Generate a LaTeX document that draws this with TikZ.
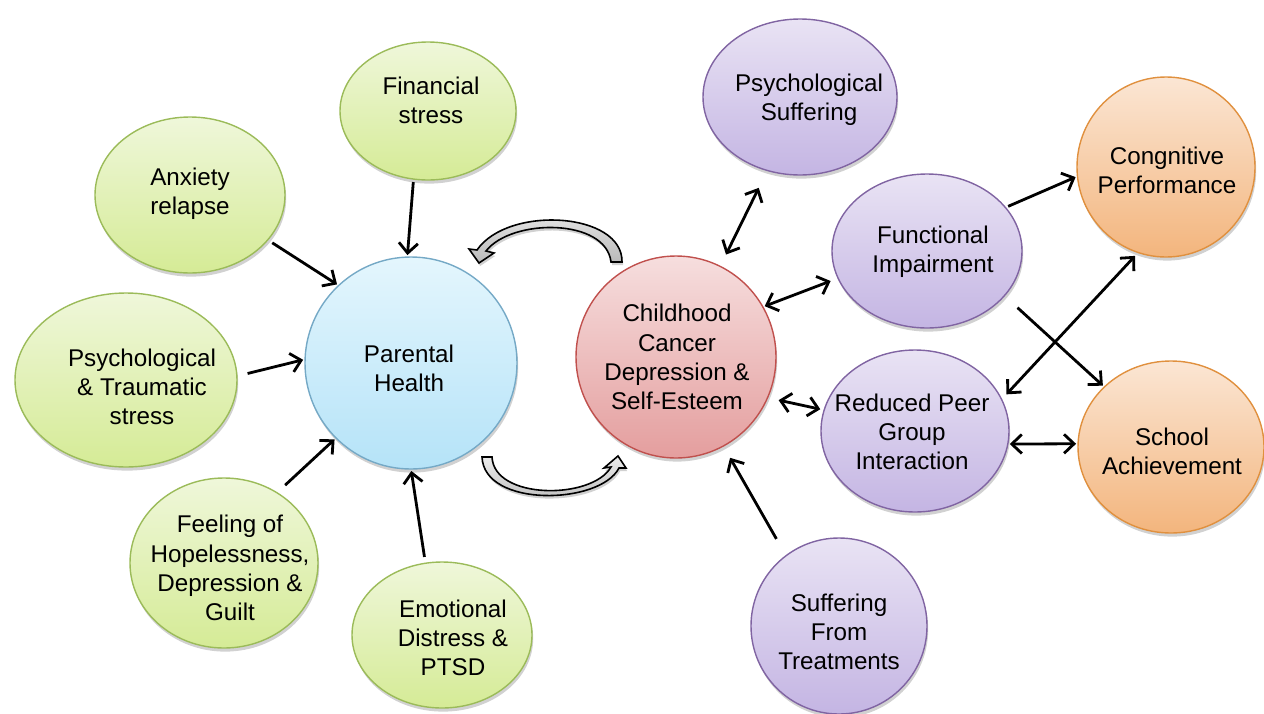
\documentclass[tikz,border=0pt]{standalone}
\usepackage{fontspec}
\setmainfont{Liberation Sans}
\usetikzlibrary{shapes.geometric,arrows.meta,shadows}

\definecolor{grnTop}{HTML}{EFF7DA}
\definecolor{grnBot}{HTML}{D5EB96}
\definecolor{grnLine}{HTML}{9BBB59}
\definecolor{bluTop}{HTML}{E4F6FD}
\definecolor{bluBot}{HTML}{B5E3F8}
\definecolor{bluLine}{HTML}{75A9C6}
\definecolor{redTop}{HTML}{F6DEDE}
\definecolor{redBot}{HTML}{E49E9E}
\definecolor{redLine}{HTML}{C0504D}
\definecolor{purTop}{HTML}{E9E3F4}
\definecolor{purBot}{HTML}{C4B5E3}
\definecolor{purLine}{HTML}{8064A2}
\definecolor{orgTop}{HTML}{FBE6D4}
\definecolor{orgBot}{HTML}{F3B57D}
\definecolor{orgLine}{HTML}{E0903E}

\tikzset{
  bub/.style={ellipse, inner sep=0pt, outer sep=0pt, line width=0.7pt,
    drop shadow={shadow xshift=0.6pt, shadow yshift=-1.8pt, fill=black, opacity=0.18}},
  wh/.style 2 args={minimum width=#1*0.5pt, minimum height=#2*0.5pt},
  grn/.style={bub, draw=grnLine, top color=grnTop, bottom color=grnBot},
  blu/.style={bub, draw=bluLine, top color=bluTop, bottom color=bluBot},
  red/.style={bub, draw=redLine, top color=redTop, bottom color=redBot},
  pur/.style={bub, draw=purLine, top color=purTop, bottom color=purBot},
  org/.style={bub, draw=orgLine, top color=orgTop, bottom color=orgBot},
  txt/.style={align=center, inner sep=0pt, font=\fontsize{12.1}{14.6}\selectfont},
  barb/.tip={Straight Barb[length=5pt,width=9.5pt]},
  link/.style={line width=1.4pt, -barb, shorten >=1pt, shorten <=1pt},
  both/.style={line width=1.4pt, barb-barb, shorten >=1pt, shorten <=1pt},
  swing/.style={draw=black, line width=0.8pt, top color=gray!15, bottom color=gray!55,
    drop shadow={shadow xshift=0.6pt, shadow yshift=-1.5pt, fill=black, opacity=0.18}},
}

\begin{document}
\begin{tikzpicture}[x=0.5pt,y=-0.5pt]
\useasboundingbox (0,0) rectangle (1264,713);

% parent-side influences
\node[grn, wh={176}{138}] (fin) at (428,111) {};
\node[grn, wh={190}{156}] (anx) at (190,195) {};
\node[grn, wh={222}{174}] (pts) at (126,380) {};
\node[grn, wh={188}{170}] (hop) at (224,563) {};
\node[grn, wh={180}{146}] (emo) at (442,635) {};

% the two central circles
\node[blu, wh={212}{212}] (ph) at (411,363) {};
\node[red, wh={200}{202}] (cc) at (676,357) {};

% child-side outcomes
\node[pur, wh={194}{156}] (psu) at (800,97) {};
\node[pur, wh={190}{154}] (fi)  at (927,251) {};
\node[pur, wh={188}{162}] (rp)  at (915,431) {};
\node[pur, wh={176}{176}] (sft) at (839,626) {};
\node[org, wh={178}{180}] (cog) at (1166,167) {};
\node[org, wh={186}{172}] (sch) at (1171,447) {};

% labels
\node[txt] (fin-t) at (431,100) {Financial\\stress};
\node[txt] (anx-t) at (190,194) {Anxiety\\relapse};
\node[txt] (pts-t) at (142,387) {Psychological\\\& Traumatic\\stress};
\node[txt] (hop-t) at (230,568) {Feeling of\\Hopelessness,\\Depression \&\\Guilt};
\node[txt] (emo-t) at (453,638) {Emotional\\Distress \&\\PTSD};
\node[txt] (ph-t)  at (409,368) {Parental\\Health};
\node[txt] (cc-t)  at (677,357) {Childhood\\Cancer\\Depression \&\\Self-Esteem};
\node[txt] (psu-t) at (809,100) {Psychological\\Suffering};
\node[txt] (fi-t)  at (933,252) {Functional\\Impairment};
\node[txt] (rp-t)  at (912,432) {Reduced Peer\\Group\\Interaction};
\node[txt] (sft-t) at (839,632) {Suffering\\From\\Treatments};
\node[txt] (cog-t) at (1167,170) {Congnitive\\Performance};
\node[txt] (sch-t) at (1172,451) {School\\Achievement};

% curved block arrows between the two circles
\path[swing] (622,262) .. controls (623,212) and (508,205) .. (477,250)
  -- (469,249) -- (479,263) -- (494,253) -- (486,251)
  .. controls (512,218) and (606,218) .. (611,262) -- cycle;
\path[swing] (482,457) .. controls (484,508) and (600,505) .. (619,468)
  -- (626,468) -- (618,456) -- (604,468) -- (611,467)
  .. controls (592,500) and (494,500) .. (492,457) -- cycle;

% influences on parental health
\draw[link, shorten <=1.5pt] (fin.258) -- (ph.92);
\draw[link, shorten <=2.7pt] (anx.330) -- (ph.133);
\draw[link, shorten <=5.5pt] (pts.2) -- (ph.178);
\draw[link, shorten <=5.6pt] (hop.53) -- (ph.225);
\draw[link, shorten <=3.2pt] (emo.103) -- (ph.270);

% links around the child
\draw[both, shorten <=6.6pt, shorten >=9.7pt] (cc.64) -- (psu.246);
\draw[both, shorten >=4pt] (cc.30) -- (fi.197);
\draw[both, shorten <=5.7pt, shorten >=2pt] (cc.336) -- (rp.167);
\draw[link, shorten <=9.7pt, shorten >=6.8pt] (sft.127) -- (cc.298);

% outcomes
\draw[link, shorten <=1.5pt] (fi.29) -- (cog.186);
\draw[link, shorten <=8.9pt] (fi.330) -- (sch.138);
\draw[both, shorten <=3.5pt, shorten >=2.3pt] (rp.20) -- (cog.252);
\draw[both] (rp.352) -- (sch.178);
\end{tikzpicture}
\end{document}
